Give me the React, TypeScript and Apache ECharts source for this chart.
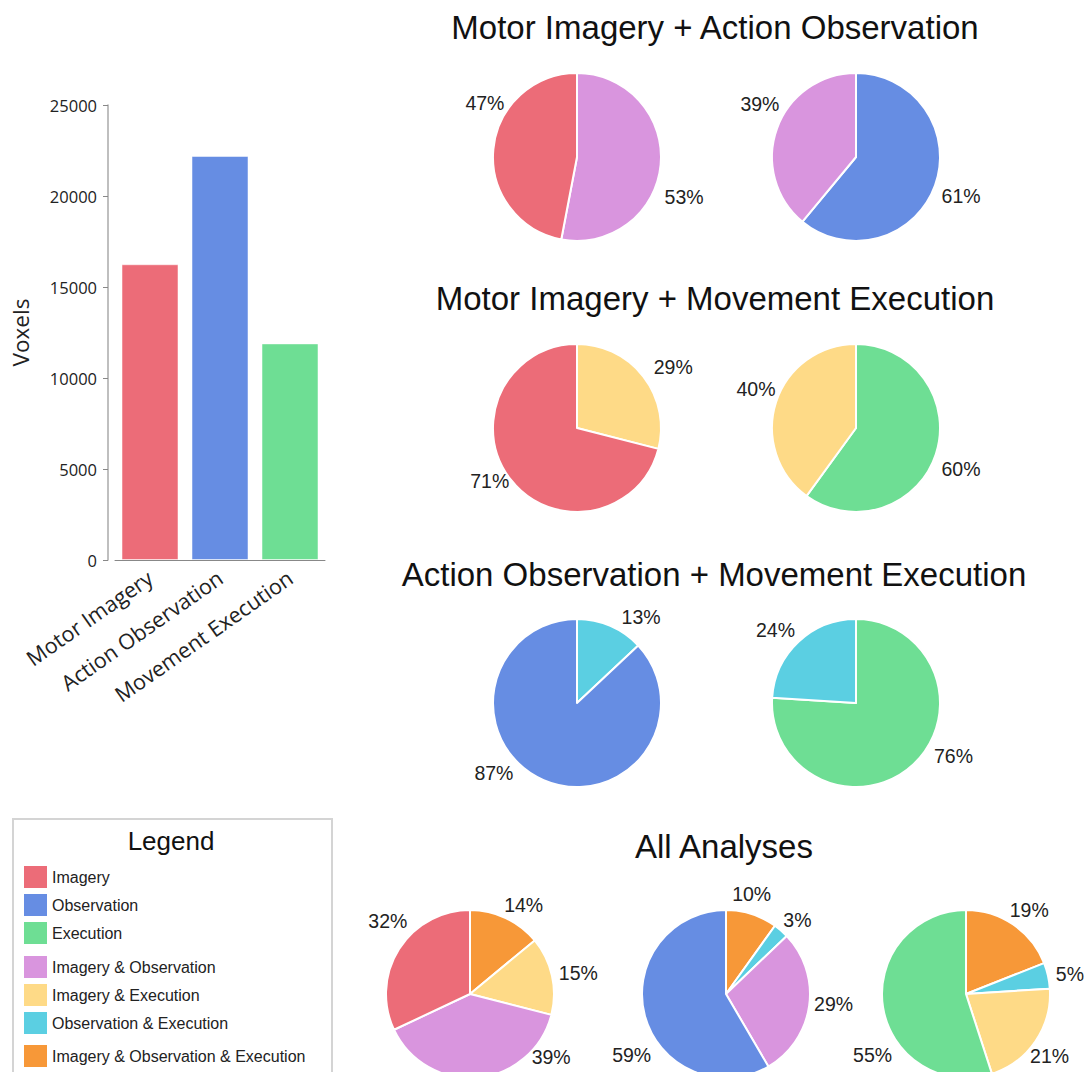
import React, { useEffect, useRef } from "react";
import * as echarts from "echarts";

const barCategories = ["Motor Imagery", "Action Observation", "Movement Execution"];
const barValues = [16250, 22200, 11900];
const barColors = ["#EC6C78", "#668DE3", "#6EDE94"];
const yMin = 0;
const yMax = 25000;
const yInterval = 5000;

const colorByName: Record<string, string> = {
  "Imagery": "#EC6C78",
  "Observation": "#668DE3",
  "Execution": "#6EDE94",
  "Imagery & Observation": "#D995DE",
  "Imagery & Execution": "#FEDA87",
  "Observation & Execution": "#5BCFE2",
  "Imagery & Observation & Execution": "#F79838",
};

const legendGroup1 = ["Imagery", "Observation", "Execution"];
const legendGroup2 = ["Imagery & Observation", "Imagery & Execution", "Observation & Execution"];
const legendGroup3 = ["Imagery & Observation & Execution"];

const titles = [
  "Motor Imagery + Action Observation",
  "Motor Imagery + Movement Execution",
  "Action Observation + Movement Execution",
  "All Analyses",
];

// pies: names and values (percent), clockwise from 12 o'clock
const pieA1Names = ["Imagery & Observation", "Imagery"];
const pieA1Values = [53, 47];
const pieA2Names = ["Observation", "Imagery & Observation"];
const pieA2Values = [61, 39];
const pieB1Names = ["Imagery & Execution", "Imagery"];
const pieB1Values = [29, 71];
const pieB2Names = ["Execution", "Imagery & Execution"];
const pieB2Values = [60, 40];
const pieC1Names = ["Observation & Execution", "Observation"];
const pieC1Values = [13, 87];
const pieC2Names = ["Execution", "Observation & Execution"];
const pieC2Values = [76, 24];
const pieD1Names = ["Imagery & Observation & Execution", "Imagery & Execution", "Imagery & Observation", "Imagery"];
const pieD1Values = [14, 15, 39, 32];
const pieD2Names = ["Imagery & Observation & Execution", "Observation & Execution", "Imagery & Observation", "Observation"];
const pieD2Values = [10, 3, 29, 59];
const pieD3Names = ["Imagery & Observation & Execution", "Observation & Execution", "Imagery & Execution", "Execution"];
const pieD3Values = [19, 5, 21, 55];

// label layout nudges (styling only), per slice [dx, dy]
const shiftA1 = [[-11, 31], [26, -45]];
const shiftA2 = [[-8, 8], [17, -22]];
const shiftB1 = [[-3, -5], [12, -3]];
const shiftB2 = [[-9, 13], [14, -11]];
const shiftC1 = [[1, -2], [-20, -14]];
const shiftC2 = [[8, -14], [9, -6]];
const shiftD1 = [[-12, -6], [-8, -1], [46, -29], [22, -24]];
const shiftD2 = [[-29, -12], [-10, -5], [-10, -3], [21, 37]];
const shiftD3 = [[-15, -8], [-7, 0], [-19, 10], [24, 47]];

const ARIAL = "'Liberation Sans', Arial, sans-serif";
const SANS = "'Open Sans', 'Noto Sans', sans-serif";

function makePie(
  id: string,
  names: string[],
  values: number[],
  center: [number, number],
  shifts: number[][]
) {
  return {
    type: "pie",
    id,
    center,
    radius: 84,
    startAngle: 90,
    clockwise: true,
    avoidLabelOverlap: false,
    itemStyle: { borderColor: "#ffffff", borderWidth: 2 },
    label: {
      show: true,
      position: "outside",
      formatter: "{c}%",
      fontFamily: ARIAL,
      fontSize: 19.5,
      color: "#222222",
    },
    labelLine: { show: false, length: 8, length2: 2 },
    labelLayout: (p: any) => {
      const s = shifts[p.dataIndex] || [0, 0];
      return { dx: s[0], dy: s[1], hideOverlap: false };
    },
    emphasis: { disabled: true },
    data: names.map((n, i) => ({ name: n, value: values[i], itemStyle: { color: colorByName[n] } })),
  };
}

function makeLegend(names: string[], top: number) {
  return {
    show: true,
    orient: "vertical",
    left: 24,
    top,
    padding: 0,
    itemWidth: 23,
    itemHeight: 22,
    itemGap: 6,
    icon: "rect",
    selectedMode: false,
    itemStyle: { borderWidth: 0 },
    textStyle: { fontFamily: ARIAL, fontSize: 16, color: "#222222" },
    data: names,
  };
}

export default function App() {
  const ref = useRef<HTMLDivElement>(null);
  useEffect(() => {
    if (!ref.current) return;
    const chart = echarts.init(ref.current, undefined, { renderer: "svg" });
    const titleStyle = { fontFamily: ARIAL, fontSize: 33, fontWeight: "normal" as const, color: "#111111" };
    chart.setOption({
      animation: false,
      backgroundColor: "#ffffff",
      title: [
        { text: titles[0], left: 715, top: 11, textAlign: "center", textStyle: titleStyle, padding: 0 },
        { text: titles[1], left: 715, top: 282, textAlign: "center", textStyle: titleStyle, padding: 0 },
        { text: titles[2], left: 714, top: 558, textAlign: "center", textStyle: titleStyle, padding: 0 },
        { text: titles[3], left: 724, top: 830, textAlign: "center", textStyle: titleStyle, padding: 0 },
        {
          text: "Legend",
          left: 171,
          top: 828,
          textAlign: "center",
          padding: 0,
          textStyle: { fontFamily: ARIAL, fontSize: 26, fontWeight: "normal", color: "#111111" },
        },
      ],
      legend: [makeLegend(legendGroup1, 866), makeLegend(legendGroup2, 956), makeLegend(legendGroup3, 1045)],
      graphic: [
        {
          type: "rect",
          shape: { x: 13, y: 819, width: 319, height: 300 },
          style: { fill: "none", stroke: "#d4d4d4", lineWidth: 2 },
          silent: true,
        },
      ],
      grid: { left: 115, top: 105, width: 210, height: 455 },
      xAxis: {
        type: "category",
        data: barCategories,
        axisLine: { lineStyle: { color: "#888888", width: 1 } },
        axisTick: { alignWithLabel: true, length: 5, lineStyle: { color: "#888888" } },
        axisLabel: {
          rotate: 35,
          fontFamily: SANS,
          fontSize: 21.5,
          color: "#222222",
          margin: 15,
          interval: 0,
        },
      },
      yAxis: {
        type: "value",
        min: yMin,
        max: yMax,
        interval: yInterval,
        offset: 7,
        name: "Voxels",
        nameLocation: "middle",
        nameGap: 76,
        nameTextStyle: { fontFamily: SANS, fontSize: 22.5, color: "#222222" },
        axisLine: { show: true, lineStyle: { color: "#aaaaaa", width: 1.5 } },
        axisTick: { show: true, length: 5, lineStyle: { color: "#888888" } },
        splitLine: { show: false },
        axisLabel: {
          fontFamily: SANS,
          fontSize: 16.5,
          color: "#222222",
          margin: 11,
          formatter: (v: number) => String(v),
        },
      },
      series: [
        {
          type: "bar",
          barWidth: 57,
          data: barValues.map((v, i) => ({ value: v, itemStyle: { color: barColors[i] } })),
          itemStyle: { borderColor: "rgba(255,255,255,0.5)", borderWidth: 1 },
          emphasis: { disabled: true },
        },
        makePie("a1", pieA1Names, pieA1Values, [577, 157], shiftA1),
        makePie("a2", pieA2Names, pieA2Values, [856, 157], shiftA2),
        makePie("b1", pieB1Names, pieB1Values, [577, 428], shiftB1),
        makePie("b2", pieB2Names, pieB2Values, [856, 428], shiftB2),
        makePie("c1", pieC1Names, pieC1Values, [577, 703], shiftC1),
        makePie("c2", pieC2Names, pieC2Values, [856, 703], shiftC2),
        makePie("d1", pieD1Names, pieD1Values, [470, 994], shiftD1),
        makePie("d2", pieD2Names, pieD2Values, [726, 994], shiftD2),
        makePie("d3", pieD3Names, pieD3Values, [966, 994], shiftD3),
      ],
    });
    return () => chart.dispose();
  }, []);
  return (
    <div
      ref={ref}
      style={{ position: "absolute", left: 0, top: 0, width: 1084, height: 1072, background: "#fff" }}
    />
  );
}
